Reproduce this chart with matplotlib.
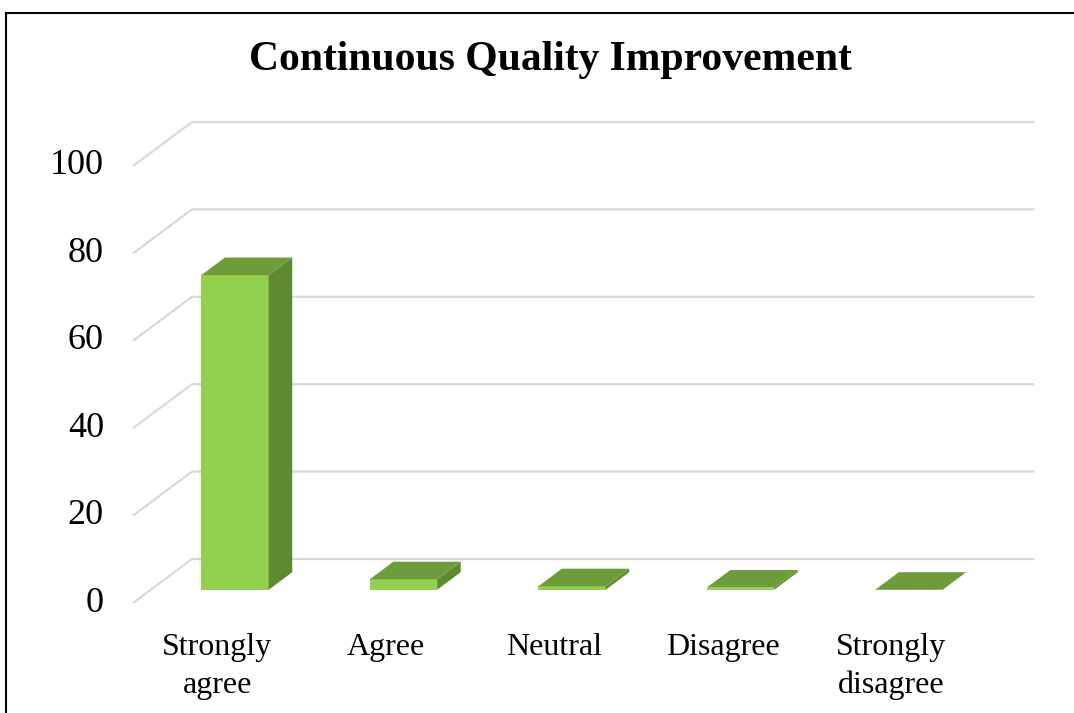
import numpy as np
import matplotlib.pyplot as plt
from matplotlib.patches import Polygon
from matplotlib.lines import Line2D

categories = ["Strongly\nagree", "Agree", "Neutral", "Disagree", "Strongly\ndisagree"]
values = [72, 2.4, 0.8, 0.5, 0]
yticks = [0, 20, 40, 60, 80, 100]

title = "Continuous Quality Improvement"
front_color = "#92D050"
top_color = "#6E9C3A"
side_color = "#5E8A32"
grid_color = "#D9D9D9"
font_family = "Liberation Serif"

# pseudo-3d column layout, everything in data units
cat_px = 168.5        # pixels per category
val_px = 4.37         # pixels per value unit
depth_dx = 59 / cat_px
depth_dy = 44 / val_px
bar_w = 0.4
d0, d1 = 0.3, 0.7     # bar front/back depth fraction

fig = plt.figure(figsize=(10.74, 7.13), dpi=100)
ax = fig.add_axes([0, 0, 1, 1])
ax.set_xlim(-217.25 / cat_px, (1074 - 217.25) / cat_px)
ax.set_ylim((603 - 713) / val_px, 603 / val_px)
ax.axis('off')

# back wall gridlines with the diagonal side wall
x_left = -0.5
x_right = len(categories) - 0.5
for v in yticks:
    ax.plot([x_left, x_left + depth_dx, x_right + depth_dx],
            [v, v + depth_dy, v + depth_dy],
            color=grid_color, lw=1.6, solid_capstyle='butt', zorder=1)
    ax.text(x_left - 29 / cat_px, v, str(v), ha='right', va='center',
            fontsize=26, family=font_family)

# bars
ddx = (d1 - d0) * depth_dx
ddy = (d1 - d0) * depth_dy
for i, v in enumerate(values):
    xl = i - bar_w / 2 + d0 * depth_dx
    xr = xl + bar_w
    yb = d0 * depth_dy
    front = [(xl, yb), (xr, yb), (xr, yb + v), (xl, yb + v)]
    side = [(xr, yb), (xr + ddx, yb + ddy), (xr + ddx, yb + ddy + v), (xr, yb + v)]
    top = [(xl, yb + v), (xr, yb + v), (xr + ddx, yb + v + ddy), (xl + ddx, yb + v + ddy)]
    ax.add_patch(Polygon(front, closed=True, facecolor=front_color, edgecolor='none', zorder=3))
    ax.add_patch(Polygon(side, closed=True, facecolor=side_color, edgecolor='none', zorder=3))
    ax.add_patch(Polygon(top, closed=True, facecolor=top_color, edgecolor='none', zorder=4))

# category labels
for i, c in enumerate(categories):
    ax.text(i, -6.8, c, ha='center', va='top', fontsize=23,
            family=font_family, linespacing=1.4)

fig.text(550 / 1074, 1 - 60 / 713, title, ha='center', va='center',
         fontsize=30, fontweight='bold', family=font_family)

# outer frame (left and top only visible)
fig.add_artist(Line2D([6 / 1074, 6 / 1074], [0, 1 - 13 / 713], color='black', lw=1.5))
fig.add_artist(Line2D([6 / 1074, 1], [1 - 13 / 713, 1 - 13 / 713], color='black', lw=1.5))

plt.savefig('out.png', dpi=100)
